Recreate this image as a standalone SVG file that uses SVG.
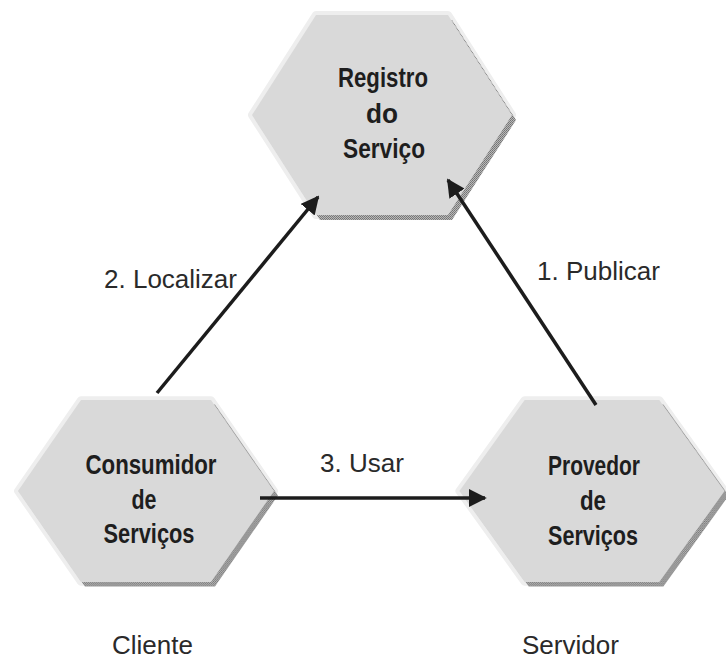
<svg xmlns="http://www.w3.org/2000/svg" width="726" height="662" viewBox="0 0 726 662">
  <defs>
    <!-- dithered grey used for the bevel shadow under each hexagon -->
    <pattern id="dither" width="2" height="2" patternUnits="userSpaceOnUse">
      <rect width="2" height="2" fill="#b8b8b8"/>
      <rect width="1" height="1" fill="#737373"/>
      <rect x="1" y="1" width="1" height="1" fill="#7f7f7f"/>
    </pattern>
    <marker id="arrow" viewBox="0 0 10 10" refX="9" refY="5" markerWidth="5.2" markerHeight="5.2" markerUnits="strokeWidth" orient="auto">
      <path d="M0,0 L10,5 L0,10 z" fill="#1c1c1c"/>
    </marker>
    <!-- one hexagon shape, reused by all three nodes -->
    <polygon id="hex" points="-130,0 -66,-100 66,-100 130,0 66,100 -66,100"/>
  </defs>
  <style>
    .halo { fill: none; stroke: #eeeeee; stroke-width: 8; stroke-linejoin: round; }
    .shadow { fill: url(#dither); }
    .face { fill: #d9d9d9; }
    .name { font-family: "Liberation Sans", Arial, sans-serif; font-weight: bold; font-size: 28px; fill: #1e1e1e; text-anchor: middle; }
    .label { font-family: "Liberation Sans", Arial, sans-serif; font-size: 26px; fill: #2a2a2a; }
    .link { stroke: #1c1c1c; stroke-width: 3.5; fill: none; marker-end: url(#arrow); }
  </style>

  <rect width="726" height="662" fill="#ffffff"/>

  <!-- Registro do Serviço -->
  <g id="registro">
    <g transform="translate(382,115)">
      <use href="#hex" class="halo"/>
      <use href="#hex" class="shadow" transform="translate(4,5)"/>
      <use href="#hex" class="face"/>
    </g>
    <text class="name" x="383" y="87" textLength="90" lengthAdjust="spacingAndGlyphs">Registro</text>
    <text class="name" x="382" y="123" textLength="32" lengthAdjust="spacingAndGlyphs">do</text>
    <text class="name" x="384" y="158" textLength="82" lengthAdjust="spacingAndGlyphs">Serviço</text>
  </g>

  <!-- Consumidor de Serviços -->
  <g id="consumidor">
    <g transform="translate(146,491) scale(0.985,0.91)">
      <use href="#hex" class="halo"/>
      <use href="#hex" class="shadow" transform="translate(4,5)"/>
      <use href="#hex" class="face"/>
    </g>
    <text class="name" x="151" y="474" textLength="131" lengthAdjust="spacingAndGlyphs">Consumidor</text>
    <text class="name" x="144" y="509" textLength="25" lengthAdjust="spacingAndGlyphs">de</text>
    <text class="name" x="149" y="543" textLength="91" lengthAdjust="spacingAndGlyphs">Serviços</text>
  </g>

  <!-- Provedor de Serviços -->
  <g id="provedor">
    <g transform="translate(592,491) scale(1.02,0.91)">
      <use href="#hex" class="halo"/>
      <use href="#hex" class="shadow" transform="translate(4,5)"/>
      <use href="#hex" class="face"/>
    </g>
    <text class="name" x="594" y="475" textLength="92" lengthAdjust="spacingAndGlyphs">Provedor</text>
    <text class="name" x="593" y="510" textLength="26" lengthAdjust="spacingAndGlyphs">de</text>
    <text class="name" x="593" y="545" textLength="90" lengthAdjust="spacingAndGlyphs">Serviços</text>
  </g>

  <!-- connectors -->
  <g id="connectors">
    <line class="link" x1="157" y1="393" x2="318" y2="197"/>
    <line class="link" x1="596" y1="405" x2="448" y2="180"/>
    <line class="link" x1="260" y1="498" x2="485" y2="498"/>
    <text class="label" x="237" y="288" text-anchor="end">2. Localizar</text>
    <text class="label" x="537" y="280">1. Publicar</text>
    <text class="label" x="320" y="472">3. Usar</text>
  </g>

  <!-- roles under the lower nodes -->
  <text class="label" x="112" y="654">Cliente</text>
  <text class="label" x="522" y="654">Servidor</text>
</svg>
